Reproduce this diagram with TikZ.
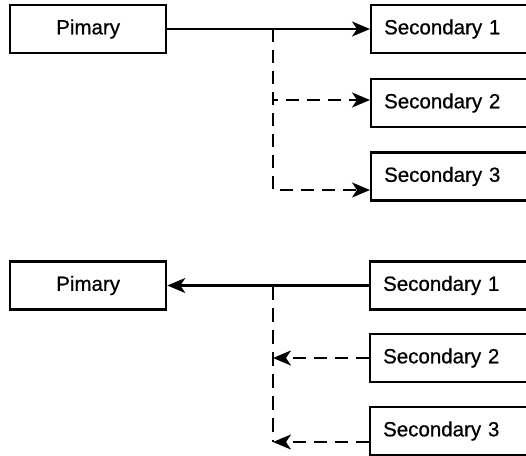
\documentclass[tikz,border=0pt]{standalone}
\usepackage{fontspec}
\setmainfont[BoldFont={Liberation Sans}, BoldFeatures={FakeBold=0.7}]{Liberation Sans}
\usetikzlibrary{arrows.meta}
\begin{document}
\begin{tikzpicture}[x=1pt,y=-1pt,
  box/.style={draw, line width=2.3pt, minimum height=48pt, inner sep=0pt},
  prim/.style={box, minimum width=156pt, anchor=west},
  sec/.style={box, anchor=west, text width=150pt, align=left, inner xsep=13pt},
  link/.style={line width=2.3pt, -{Stealth[length=18pt,width=15pt,inset=5pt]}},
  dashlink/.style={link, dash pattern=on 13pt off 8pt},
  trunk/.style={line width=2.3pt, dash pattern=on 14pt off 8pt},
  font=\fontsize{20.5pt}{24pt}\selectfont\bfseries]
\useasboundingbox (0,0) rectangle (526,455);

% upper diagram: primary feeding the secondaries
\node[prim] (p1) at (9,29) {Pimary};
\node[sec] (a1) at (370,29) {Secondary 1};
\node[sec] (a2) at (370,103) {Secondary 2};
\node[sec] (a3) at (370,176.5) {Secondary 3};
\coordinate (j1) at (273,29);

\draw[link] (p1.east) -- (a1.west);
\draw[dashlink] (j1) |- ([yshift=3pt]a2.west);
\draw[dashlink] (j1) |- ([yshift=-13.5pt]a3.west);

% lower diagram: secondaries feeding back to the primary
\node[prim] (p2) at (9,285.5) {Pimary};
\node[sec] (b1) at (369,285.5) {Secondary 1};
\node[sec] (b2) at (369,358) {Secondary 2};
\node[sec] (b3) at (369,431) {Secondary 3};
\coordinate (j2) at (273,285.5);
\coordinate (j2end) at (273,442);

\draw[link] (b1.west) -- (p2.east);
\draw[trunk] (j2) -- (j2end);
\draw[dashlink] (b2.west) -- (b2.west -| j2);
\draw[dashlink] ([yshift=-11pt]b3.west) -- (j2end);
\end{tikzpicture}
\end{document}
